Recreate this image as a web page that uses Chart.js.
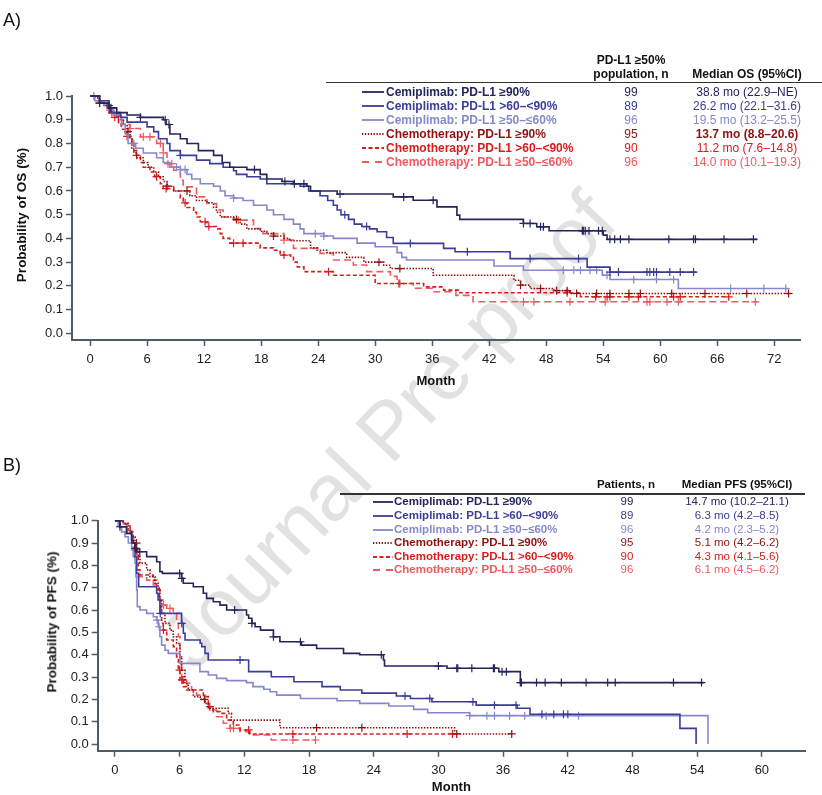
<!DOCTYPE html>
<html>
<head>
<meta charset="utf-8">
<script src="https://cdn.jsdelivr.net/npm/chart.js@4.4.1/dist/chart.umd.min.js"></script>
<style>
  body { margin: 0; background: #fff; font-family: "Liberation Sans", Arial, sans-serif; }
  #page { position: relative; width: 822px; height: 795px; overflow: hidden; }
  canvas { position: absolute; left: 0; }
  .t { position: absolute; white-space: nowrap; line-height: 1; }
  .wm { position: absolute; left: 388px; top: 430px; font-size: 80px; color: #e2e2e2;
        transform: translate(-50%, -50%) rotate(-46.5deg); white-space: nowrap; }
</style>
</head>
<body>
<div id="page">
  <div class="wm">Journal Pre-proof</div>
  <canvas id="os" width="822" height="400" style="top:0"></canvas>
  <canvas id="pfs" width="822" height="375" style="top:420px"></canvas>
</div>
<script>
// ---- data ----
const groupLabels = ["Cemiplimab: PD-L1 ≥90%", "Cemiplimab: PD-L1 >60–<90%", "Cemiplimab: PD-L1 ≥50–≤60%",
  "Chemotherapy: PD-L1 ≥90%", "Chemotherapy: PD-L1 >60–<90%", "Chemotherapy: PD-L1 ≥50–≤60%"];
const osN = [99, 89, 96, 95, 90, 96];
const osMedian = ["38.8 mo (22.9–NE)", "26.2 mo (22.1–31.6)", "19.5 mo (13.2–25.5)",
  "13.7 mo (8.8–20.6)", "11.2 mo (7.6–14.8)", "14.0 mo (10.1–19.3)"];
const pfsN = [99, 89, 96, 95, 90, 96];
const pfsMedian = ["14.7 mo (10.2–21.1)", "6.3 mo (4.2–8.5)", "4.2 mo (2.3–5.2)",
  "5.1 mo (4.2–6.2)", "4.3 mo (4.1–5.6)", "6.1 mo (4.5–6.2)"];

const probTicks = [0, 0.1, 0.2, 0.3, 0.4, 0.5, 0.6, 0.7, 0.8, 0.9, 1.0];
const osMonthTicks = [0, 6, 12, 18, 24, 30, 36, 42, 48, 54, 60, 66, 72];
const pfsMonthTicks = [0, 6, 12, 18, 24, 30, 36, 42, 48, 54, 60];

// KM steps: [month, survival after the step]
const osCemi90 = [[0,1],[1,0.97],[2,0.95],[2.8,0.93],[3.9,0.92],[5.3,0.91],[7.7,0.9],[8,0.88],[8.4,0.84],[9.5,0.82],
  [10.2,0.8],[11.4,0.77],[13,0.75],[13.9,0.72],[14.7,0.7],[16.5,0.69],[17.9,0.67],[18.6,0.65],[20.2,0.64],[21.4,0.63],
  [22.8,0.62],[23.2,0.6],[26,0.587],[31.9,0.575],[34,0.561],[36.5,0.533],[38.6,0.498],[38.9,0.48],[45.6,0.463],
  [47,0.449],[48.3,0.432],[54,0.414],[54.4,0.396],[70.2,0.396]];
const osCemi90Cens = [1,2.2,5.3,7.9,8.3,17.3,20.5,21.5,22.5,26.3,33,36.1,45.6,46.3,47.4,47.7,51.8,51.9,52.1,52.5,
  53.5,53.9,54.7,55.2,55.8,56.7,60.9,63.5,63.7,66.7,69.8];

const osCemi6090 = [[0,1],[1,0.98],[2,0.96],[2.1,0.93],[3.2,0.91],[3.9,0.89],[6,0.87],[6.7,0.85],[7.2,0.82],[8.1,0.8],
  [8.4,0.77],[9.5,0.75],[11.2,0.73],[12.6,0.715],[14,0.7],[15.1,0.685],[15.4,0.67],[16.5,0.66],[17.9,0.65],[18.6,0.63],
  [22.1,0.62],[23,0.6],[24.2,0.58],[25,0.56],[25.6,0.54],[26,0.52],[26.4,0.5],[27.2,0.48],[27.8,0.46],[28.6,0.45],
  [29.4,0.44],[30.2,0.428],[31.2,0.404],[31.9,0.379],[37.2,0.358],[38.4,0.344],[44.2,0.315],[52.3,0.279],[54.7,0.258],
  [63.8,0.258]];
const osCemi6090Cens = [2,9.5,26.8,29.1,33.7,39.7,46.3,51.4,54.7,55.6,58.6,58.9,59.3,59.6,61,62.1,63.5];

const osCemi5060 = [[0,1],[0.5,0.98],[1.5,0.96],[2,0.94],[2.5,0.92],[3.3,0.88],[3.7,0.84],[4,0.8],[4.8,0.78],[5.6,0.76],
  [7,0.74],[7.7,0.72],[8.4,0.7],[9.5,0.69],[10.2,0.67],[10.7,0.65],[11.6,0.63],[13,0.62],[13.7,0.6],[14.2,0.58],
  [15.1,0.57],[16.1,0.56],[17.2,0.54],[18.6,0.52],[19.3,0.5],[20.4,0.48],[21.4,0.46],[22.1,0.44],[22.5,0.42],[24.6,0.41],
  [25.6,0.4],[28.1,0.38],[30,0.365],[32.3,0.34],[32.8,0.32],[33.3,0.309],[42.5,0.284],[45.6,0.266],[53.9,0.245],
  [54.7,0.227],[61.9,0.189],[73.5,0.189]];
const osCemi5060Cens = [4.6,9.1,9.5,10,15.1,23.7,24.6,49.8,50.9,51.6,52.6,53.3,54.4,57.2,59.6,61.4,67.4,70.9,73.2];

const osChemo90 = [[0,1],[1,0.97],[1.8,0.95],[2.3,0.93],[3,0.9],[3.5,0.88],[3.9,0.85],[4.2,0.82],[4.4,0.78],[4.6,0.76],
  [4.9,0.74],[5.6,0.72],[6.1,0.7],[6.7,0.68],[7.2,0.66],[7.7,0.64],[8.1,0.62],[8.8,0.6],[10.5,0.58],[11.2,0.56],
  [12.3,0.55],[13,0.53],[13.3,0.51],[13.7,0.49],[15.1,0.48],[15.8,0.46],[16.5,0.44],[17.9,0.43],[18.6,0.42],[19.3,0.41],
  [20.4,0.4],[21,0.39],[23.2,0.36],[23.9,0.35],[24.9,0.34],[27,0.32],[28.8,0.3],[30.9,0.287],[31.6,0.273],[36.1,0.245],
  [44.6,0.224],[45.3,0.203],[46.3,0.189],[48.8,0.18],[50.5,0.168],[73.8,0.168]];
const osChemo90Cens = [1,2.8,4,8.1,10.2,15.4,19.3,30.4,32.6,45.3,47.4,49.1,50.2,51.2,53.3,54.7,56.7,57.9,61.2,64.7,69.1,73.5];

const osChemo6090 = [[0,1],[0.8,0.98],[1.5,0.96],[2,0.93],[2.5,0.91],[3,0.88],[3.3,0.86],[3.9,0.83],[4.4,0.8],[4.6,0.77],
  [4.9,0.75],[5.3,0.72],[5.6,0.7],[6.3,0.68],[6.8,0.66],[7.4,0.63],[7.7,0.61],[8.8,0.6],[9.5,0.57],[9.8,0.55],
  [10.2,0.53],[10.9,0.51],[11.2,0.49],[11.6,0.47],[12.3,0.45],[13.3,0.44],[13.7,0.42],[14,0.4],[14.7,0.38],[17.9,0.36],
  [19.3,0.35],[20,0.33],[21.1,0.32],[21.4,0.3],[21.8,0.28],[22.5,0.26],[25.6,0.245],[30,0.21],[35.1,0.196],[37.2,0.182],
  [38.9,0.171],[51.6,0.154],[67.2,0.154]];
const osChemo6090Cens = [1.8,2.3,2.6,3.9,4.9,7,8,10,12.1,12.5,15.1,16.1,20.4,25.1,32.5,50.2,53.2,54.4,54.7,56.7,57.7,
  61.4,62.1,67.2];

const osChemo5060 = [[0,1],[0.5,0.98],[1.5,0.96],[2,0.94],[2.5,0.92],[3,0.9],[3.5,0.88],[4.2,0.863],[5.3,0.828],[7,0.8],
  [7.7,0.76],[8.1,0.715],[8.8,0.687],[9.5,0.645],[9.8,0.617],[11.2,0.575],[12.3,0.547],[13.3,0.52],[14,0.49],
  [15.1,0.477],[17.2,0.442],[18.2,0.42],[20.4,0.393],[21.4,0.358],[24.2,0.337],[25.6,0.309],[27.7,0.288],[29.1,0.26],
  [31.6,0.24],[32.3,0.21],[34,0.19],[36,0.175],[38.5,0.16],[40.3,0.133],[70.2,0.133]];
const osChemo5060Cens = [0.4,2.1,4.2,5.6,6.3,7.4,7.7,8.2,8.6,15.6,20.4,32.6,45.6,46.7,50.5,54.2,58.6,58.9,60.7,61.9,70];

const pfsCemi90 = [[0,1],[0.46,0.973],[1.08,0.943],[1.55,0.913],[1.7,0.9],[1.86,0.876],[2.01,0.861],[2.94,0.839],
  [3.87,0.816],[4.17,0.772],[4.4,0.764],[6.18,0.742],[6.34,0.72],[7.27,0.704],[8.19,0.675],[8.5,0.652],[9.12,0.637],
  [9.74,0.622],[10.36,0.6],[12.2,0.578],[12.4,0.563],[12.7,0.54],[13,0.525],[13.5,0.51],[14.7,0.48],[15.3,0.458],
  [17.3,0.443],[18.7,0.428],[21.2,0.406],[22.7,0.4],[24.9,0.376],[25,0.349],[30.8,0.339],[35.6,0.324],[37.6,0.275],
  [54.6,0.275]];
const pfsCemi90Cens = [0.46,1.9,2.3,6,6.2,11.1,12.7,14.7,17.2,24.7,30,31.7,31.8,33.1,35.1,35.2,35.9,36.3,37.6,37.7,
  39.1,39.9,41.4,43.7,45.7,46.4,51.8,54.4];

const pfsCemi6090 = [[0,1],[0.46,0.973],[1.08,0.943],[1.55,0.9],[1.86,0.839],[2.01,0.764],[2.2,0.704],[3.87,0.675],
  [4,0.645],[4.17,0.585],[6.18,0.54],[6.34,0.496],[6.5,0.466],[7.9,0.451],[8.05,0.436],[8.35,0.406],[8.65,0.376],
  [12.4,0.324],[14.5,0.301],[16.6,0.279],[19.2,0.257],[20.9,0.242],[22.9,0.228],[26.1,0.215],[27.4,0.204],[29.4,0.189],
  [33.5,0.174],[37.3,0.16],[38.5,0.133],[52.4,0.07],[53.9,0]];
const pfsCemi6090Cens = [4.2,6.2,11.6,26.9,29.2,33.2,35.2,37.2,39.6,40.7,41.6,42];

const pfsCemi5060 = [[0,1],[0.3,0.973],[0.62,0.95],[0.93,0.928],[1.24,0.9],[1.55,0.869],[1.7,0.839],[1.86,0.81],
  [1.95,0.749],[2.01,0.69],[2.07,0.615],[2.32,0.6],[2.94,0.585],[3.56,0.57],[3.87,0.555],[4.02,0.525],[4.17,0.48],
  [4.33,0.443],[4.64,0.42],[4.95,0.406],[6.03,0.361],[7.88,0.324],[8.66,0.309],[9.43,0.294],[10.36,0.284],[12.2,0.275],
  [12.8,0.257],[13.8,0.245],[14.4,0.234],[15,0.219],[17.2,0.204],[20.6,0.194],[22.7,0.182],[25.4,0.17],[27.7,0.155],
  [29,0.14],[32.9,0.127],[55,0.127],[55,0]];
const pfsCemi5060Cens = [3.9,4.1,32.9,34.5,35.2,36.6,38,40,43];

const pfsChemo90 = [[0,1],[0.77,0.988],[1.24,0.958],[1.55,0.928],[1.86,0.9],[2.01,0.869],[2.16,0.839],[2.32,0.81],
  [2.94,0.78],[3.25,0.749],[3.71,0.72],[4.02,0.69],[4.17,0.645],[4.33,0.585],[4.64,0.54],[5.1,0.51],[5.4,0.48],
  [5.72,0.45],[6.03,0.39],[6.18,0.331],[6.49,0.27],[6.8,0.242],[7.27,0.212],[7.9,0.2],[8.35,0.182],[8.66,0.16],
  [10.5,0.137],[10.8,0.107],[15.3,0.073],[31.5,0.045],[36.8,0.045]];
const pfsChemo90Cens = [2,8.3,18.7,22.9,31.7,36.8];

const pfsChemo6090 = [[0,1],[0.77,0.985],[1.4,0.948],[1.7,0.9],[1.86,0.87],[2.01,0.839],[2.16,0.78],[2.32,0.757],
  [3.56,0.734],[3.87,0.704],[4.11,0.66],[4.24,0.6],[4.33,0.54],[4.48,0.51],[4.8,0.466],[5.41,0.436],[5.72,0.39],
  [5.88,0.331],[6.03,0.287],[6.34,0.257],[6.65,0.242],[8.2,0.212],[8.66,0.167],[9.12,0.145],[9.74,0.137],[10.36,0.107],
  [10.98,0.085],[11.6,0.063],[12.5,0.045],[31.3,0.045]];
const pfsChemo6090Cens = [2,4.5,6,6.2,6.3,8.8,12.4,16.5,27.1,31.3];

const pfsChemo5060 = [[0,1],[0.62,0.985],[1.08,0.955],[1.55,0.91],[1.7,0.88],[1.86,0.839],[2.01,0.78],[2.16,0.749],
  [2.94,0.734],[3.56,0.712],[3.87,0.69],[4.17,0.645],[4.48,0.622],[4.8,0.607],[5.41,0.585],[5.72,0.54],[5.88,0.48],
  [6.03,0.39],[6.18,0.301],[6.65,0.272],[7.11,0.242],[7.58,0.219],[8.35,0.182],[8.66,0.152],[9.43,0.122],[10.05,0.093],
  [10.67,0.07],[11.6,0.055],[12.5,0.04],[14.5,0.018],[18.6,0.018]];
const pfsChemo5060Cens = [4.5,5.1,10.7,11,16.5,18.6];

// ---- styles ----
const groupColors = ["#24255a", "#3b3c98", "#8787cc", "#8e1111", "#d91c1c", "#ee5a5f"];
const groupDash = [[], [], [], [1.5, 1.5], [4, 2.5], [7, 4]];
const legendDash = ["", "", "", "1.3 1.6", "4 2.5", "7 6"];
const axisColor = "#4d5d68";

Chart.defaults.font.family = '"Liberation Sans", Arial, sans-serif';
Chart.defaults.color = "#222";

// survival value just after time t
function survAt(steps, t) {
  let v = steps[0][1];
  for (const [m, s] of steps) {
    if (m <= t) v = s; else break;
  }
  return v;
}

function kmSets(curves) {
  const sets = [];
  curves.forEach(([steps, cens], i) => {
    sets.push({
      data: steps.map(([x, y]) => ({ x, y })),
      stepped: true,
      borderColor: groupColors[i],
      borderWidth: 1.6,
      borderDash: groupDash[i],
      pointRadius: 0,
      fill: false,
      clip: false
    });
    sets.push({
      data: cens.map(t => ({ x: t, y: survAt(steps, t) })),
      showLine: false,
      pointStyle: "cross",
      pointRadius: 4,
      pointBorderWidth: 1.2,
      borderColor: groupColors[i],
      backgroundColor: groupColors[i],
      clip: false
    });
  });
  return sets;
}

function kmChart(id, curves, o) {
  return new Chart(document.getElementById(id), {
    type: "line",
    data: { datasets: kmSets(curves) },
    options: {
      responsive: false,
      animation: false,
      events: [],
      layout: { padding: { top: o.padTop, right: o.padRight, bottom: 0, left: 0 } },
      plugins: { legend: { display: false }, tooltip: { enabled: false } },
      scales: {
        x: {
          type: "linear",
          min: o.xMin,
          max: o.xMax,
          afterBuildTicks: s => { s.ticks = o.xTicks.map(v => ({ value: v })); },
          afterFit: s => { s.height = o.xHeight; },
          ticks: { autoSkip: false, maxRotation: 0, padding: o.xLabelPad, font: { size: 13 }, callback: v => String(v) },
          grid: { drawOnChartArea: false, tickLength: 6, tickColor: axisColor, tickWidth: 1.5 },
          border: { color: axisColor, width: 2 },
          title: { display: true, text: "Month", color: "#111", font: { size: 13, weight: "bold" },
                   padding: { top: 0, bottom: o.titlePad } }
        },
        y: {
          min: o.yMin,
          max: 1,
          afterBuildTicks: s => { s.ticks = probTicks.map(v => ({ value: v })); },
          afterFit: s => { s.width = o.yWidth; },
          ticks: { padding: 3, font: { size: 13 }, callback: v => v.toFixed(1) },
          grid: { drawOnChartArea: false, tickLength: 6, tickColor: axisColor, tickWidth: 1.5 },
          border: { color: axisColor, width: 2 }
        }
      }
    }
  });
}

kmChart("os", [[osCemi90, osCemi90Cens], [osCemi6090, osCemi6090Cens], [osCemi5060, osCemi5060Cens],
  [osChemo90, osChemo90Cens], [osChemo6090, osChemo6090Cens], [osChemo5060, osChemo5060Cens]],
  { padTop: 96, padRight: 22, xMin: -1.9, xMax: 74.7, xTicks: osMonthTicks, xHeight: 60, titlePad: 11,
    xLabelPad: 6, yMin: -0.028, yWidth: 72 });

kmChart("pfs", [[pfsCemi90, pfsCemi90Cens], [pfsCemi6090, pfsCemi6090Cens], [pfsCemi5060, pfsCemi5060Cens],
  [pfsChemo90, pfsChemo90Cens], [pfsChemo6090, pfsChemo6090Cens], [pfsChemo5060, pfsChemo5060Cens]],
  { padTop: 100.7, padRight: 17, xMin: -1.6, xMax: 64, xTicks: pfsMonthTicks, xHeight: 44.3, titlePad: 0,
    xLabelPad: 5.5, yMin: -0.03, yWidth: 97.7 });

// ---- text: panel letters, y titles, legend tables ----
const page = document.getElementById("page");
function put(text, x, y, css, align) {
  const d = document.createElement("div");
  d.className = "t";
  d.textContent = text;
  d.style.left = x + "px";
  d.style.top = y + "px";
  const tx = align === "center" ? "-50%" : align === "right" ? "-100%" : "0";
  d.style.transform = "translate(" + tx + ",-50%)";
  for (const k in css) d.style[k] = css[k];
  page.appendChild(d);
  return d;
}
function yTitle(text, x, y) {
  const d = put(text, x, y, { fontSize: "13.5px", fontWeight: "bold", color: "#111" }, "center");
  d.style.transform = "translate(-50%,-50%) rotate(-90deg)";
}
function hline(x1, x2, y) {
  const d = document.createElement("div");
  d.style.cssText = "position:absolute;left:" + x1 + "px;top:" + (y - 0.75) + "px;width:" + (x2 - x1) +
    "px;height:1.5px;background:#333;";
  page.appendChild(d);
}
function sample(i, x, y, w) {
  const ns = "http://www.w3.org/2000/svg";
  const svg = document.createElementNS(ns, "svg");
  svg.setAttribute("width", w); svg.setAttribute("height", 4);
  svg.style.cssText = "position:absolute;left:" + x + "px;top:" + (y - 2) + "px;";
  const ln = document.createElementNS(ns, "line");
  ln.setAttribute("x1", 0); ln.setAttribute("x2", w); ln.setAttribute("y1", 2); ln.setAttribute("y2", 2);
  ln.setAttribute("stroke", groupColors[i]); ln.setAttribute("stroke-width", 1.8);
  if (legendDash[i]) ln.setAttribute("stroke-dasharray", legendDash[i]);
  svg.appendChild(ln);
  page.appendChild(svg);
}
function legendTable(o, ns, meds) {
  groupLabels.forEach((lab, i) => {
    const y = o.rowY + i * o.rowStep;
    sample(i, o.lineX, y, o.lineW);
    put(lab, o.textX, y, { fontSize: o.fs + "px", fontWeight: "bold", color: groupColors[i] }, "left");
    put(String(ns[i]), o.nX, y, { fontSize: o.fs + "px", color: groupColors[i] }, "center");
    put(meds[i], o.medX, y, { fontSize: o.fs + "px", color: groupColors[i],
      fontWeight: o.boldMed === i ? "bold" : "normal" }, "center");
  });
}

put("A)", 3, 20, { fontSize: "18px", color: "#111" }, "left");
put("B)", 3, 465, { fontSize: "18px", color: "#111" }, "left");
yTitle("Probability of OS (%)", 22, 215);
yTitle("Probability of PFS (%)", 52, 622);

put("PD-L1 ≥50%", 631, 60, { fontSize: "12px", fontWeight: "bold", color: "#111" }, "center");
put("population, n", 631, 73.5, { fontSize: "12px", fontWeight: "bold", color: "#111" }, "center");
put("Median OS (95%CI)", 747, 73.5, { fontSize: "12px", fontWeight: "bold", color: "#111" }, "center");
hline(326, 822, 82.5);
legendTable({ rowY: 92.3, rowStep: 14, lineX: 362, lineW: 22, textX: 386, nX: 631, medX: 747, fs: 12, boldMed: 3 },
  osN, osMedian);

put("Patients, n", 626, 485, { fontSize: "11.5px", fontWeight: "bold", color: "#111" }, "center");
put("Median PFS (95%CI)", 737, 485, { fontSize: "11.5px", fontWeight: "bold", color: "#111" }, "center");
hline(340, 805, 494);
legendTable({ rowY: 502.3, rowStep: 13.6, lineX: 373, lineW: 20, textX: 394, nX: 627, medX: 737, fs: 11.5, boldMed: -1 },
  pfsN, pfsMedian);
</script>
</body>
</html>
